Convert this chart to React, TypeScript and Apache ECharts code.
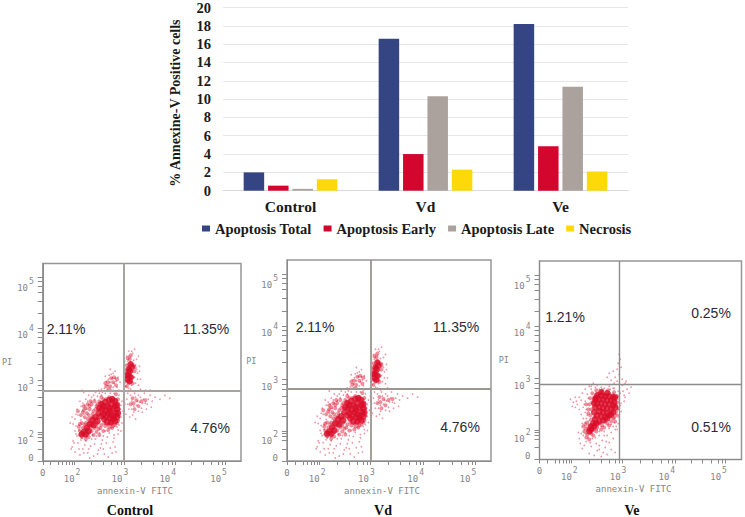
import React, { useEffect, useRef } from "react";
import * as echarts from "echarts";

const categories = ["Control", "Vd", "Ve"];
const apoptosisTotal = [2.0, 16.6, 18.2];
const apoptosisEarly = [0.55, 4.0, 4.85];
const apoptosisLate = [0.2, 10.3, 11.35];
const necrosis = [1.25, 2.3, 2.1];

const ctlSparse = [
  [30,14],[33,9],[36,18],[38,6],[41,12],[44,20],[46,8],[49,15],[52,5],[54,22],[57,11],[60,17],[63,7],[66,24],[69,13],[72,19],[75,9],[77,27],[35,25],[40,23],[48,3],[58,28],[64,30],[70,33],[31,20],[43,16],[51,26],[61,21],[74,14],[67,4],
  [28,38],[30,44],[33,30],[35,52],[37,36],[38,60],[41,58],[44,62],[47,66],[50,64],[54,69],[58,68],[33,42],[36,46],
  [78,36],[80,44],[79,52],[81,60],[78,66],[77,31],[80,30],[76,70],[81,38],
  [63,73],[65,80],[67,76],[68,86],[70,71],[71,83],[73,78],[74,90],[76,74],[77,84],[79,79],[64,85],[66,72],[72,88],[78,71],[69,92],
  [85,75],[86,105],[88,110],[90,72],[92,108],[94,112],[96,102],[97,88],[99,95],[100,82],[84,100],[85,84],[95,78],[98,105],[93,70],[87,68],
  [86,62],[88,52],[90,66],[92,46],[94,68],[96,56],[98,50],[100,64],[102,58],[104,68],[106,52],[108,62],[110,66],[112,60],[115,64],[120,62],[125,66],[130,63],[89,44],[95,42],
  [60,72],[40,71],[42,69],[83,72],[100,72],[105,71],[110,71],
  [34,27],[37,31],[39,41],[42,47],[45,52],[47,57],[50,59],[53,62],[56,65],[60,66],[64,68],[69,68],[73,68],[39,21],[45,25],[50,22],[55,25],[62,25],[68,28],[73,26],[76,34],[78,41],[79,48],[78,58],[80,56],
  [66,76],[69,79],[72,74],[75,80],[70,87],[67,82],[74,83],[87,100],[90,104],[93,101],[95,96],[96,92],[94,84],[97,82],[91,76],[88,73],[93,55],[97,60],[101,53],[103,62],[105,58],[91,60],[95,64],[99,59],[93,49],
  [32,18],[37,12],[42,8],[47,12],[53,17],[56,7],[59,13],[62,12],[65,18],[71,8],[73,23],[29,12],[34,35],[31,37],[34,47],[39,55],[43,56],[46,60],[52,66],[57,71],[61,69],[72,71],[82,50],[83,64],[84,57],[85,47],[87,57],[91,52],[98,66],[102,49],[107,57],[111,54],[88,105],[91,110],[84,93],[99,90],[98,76],[84,78],
];
const ctlMedium = [
  [38,30],[41,27],[44,25],[47,28],[50,30],[37,34],[41,33],[45,32],[49,34],[53,33],[57,32],[40,38],[44,38],[48,40],[52,38],[56,38],[60,36],[64,35],[68,34],[72,35],[76,38],[43,44],[47,46],[51,44],[41,49],[44,53],[48,52],[52,50],[55,55],[50,57],[53,60],[58,60],[76,48],[76,56],[77,62],[72,63],[75,67],[68,64],[62,62],[57,52],[70,37],[74,42],
  [36,50],[39,46],[42,51],[45,48],[48,55],[51,47],[54,52],[46,42],[49,43],[53,41],[56,43],[38,37],[43,36],[47,37],[51,36],[55,35],[59,33],[63,38],[67,37],[71,33],[74,36],[77,40],[78,45],[78,52],[74,60],[70,61],[65,62],[60,58],[56,57],[60,64],[44,22],[40,24],[47,24],[52,26],[58,26],[38,26],[62,30],[67,31],[55,29],[46,57],[49,60],[42,55],
  [65,75],[69,75],[72,79],[70,83],[67,79],[75,76],[64,78],[73,84],[76,82],[68,72],
  [86,80],[88,78],[90,80],[85,90],[88,86],[92,84],[94,90],[86,96],[90,98],[93,96],[89,102],[91,90],[88,93],[94,94],[86,75],[92,78],[90,106],[87,103],
  [90,57],[93,58],[96,61],[94,52],[98,55],[101,60],[92,63],[105,61],
];
const ctlCore = [
  [57,48],[60,45],[63,42],[66,39],[70,39],[74,40],[76,44],[77,48],[76,52],[76,56],[74,60],[71,62],[68,61],[64,59],[60,57],[58,53],[61,52],[64,50],[67,48],[70,46],[73,45],[75,48],[72,52],[69,50],[66,55],[70,57],[62,47],[65,44],[69,43],[72,42],[74,55],[62,55],[68,53],
  [54,44],[51,41],[48,37],[45,33],[42,29],[40,27],[47,30],[52,36],[56,40],[44,27],
  [87,82],[88,86],[89,90],[90,84],[88,92],[91,94],[89,80],[86,86],[90,97],
];

const veSparse = [
  [55,4],[58,9],[60,14],[62,3],[64,7],[66,12],[68,5],[70,17],[72,10],[74,21],[76,7],[63,19],[57,16],[50,6],[52,13],[68,24],[72,27],[76,30],[60,24],[65,28],
  [41,16],[43,11],[40,21],[42,26],[45,14],[47,18],[39,27],
  [31,60],[34,57],[36,62],[38,55],[40,50],[42,45],[44,41],[46,37],[36,52],[33,53],[40,62],[43,66],[46,70],[50,73],[54,76],[58,74],[62,72],[48,65],[52,70],[70,73],[75,71],[79,68],
  [80,60],[81,54],[82,48],[80,42],[79,36],[78,30],[84,68],[86,62],[88,70],[90,66],[92,72],[83,74],[85,58],[87,78],
  [68,82],[70,86],[72,79],[74,88],[76,82],[78,90],[80,85],[82,92],[79,96],[81,100],[80,105],[78,78],[75,76],[83,80],[86,76],
  [43,36],[45,30],[48,44],[44,52],[46,58],[49,61],[50,39],[48,32],[53,29],[58,30],[62,33],[72,35],[75,37],[77,45],[79,50],[78,62],[74,66],[67,68],[60,70],
  [37,58],[42,59],[45,55],[47,50],[46,47],[47,41],[44,24],[46,26],[49,22],[51,17],[53,21],[56,22],[60,28],[65,24],[70,31],[74,33],[77,33],[82,56],[81,66],[85,64],[52,73],[56,72],[65,71],[71,70],[74,71],[60,10],[67,18],
];
const veMedium = [
  [45,28],[48,25],[51,28],[47,22],[50,20],[53,32],[56,36],[50,34],[48,37],[52,40],[55,42],[49,46],[52,50],[50,55],[53,57],[55,62],[58,65],[62,67],[66,65],[70,66],[74,64],[76,60],[77,54],[77,48],[75,42],[72,38],[68,36],[65,32],[62,30],[60,36],[57,28],[54,24],[44,33],[47,31],
  [49,50],[47,55],[51,61],[53,66],[57,69],[63,69],[69,69],[75,67],[78,63],[78,57],[79,51],[78,44],[76,38],[70,34],[66,38],[63,34],[58,32],[55,30],[52,26],[49,30],[46,35],[51,44],[74,41],
];
const veCore = [
  [58,64],[62,64],[66,63],[70,63],[74,62],[56,60],[60,60],[64,60],[68,59],[72,59],[75,57],[58,56],[62,56],[66,55],[70,55],[74,54],[60,52],[64,51],[68,51],[72,50],[60,48],[64,47],[68,46],[58,44],[62,43],[66,42],[56,40],[60,38],[54,36],[52,33],[55,47],[70,44],[52,30],
  [56,52],[55,56],[76,62],[76,52],[74,47],[72,45],[68,41],[64,39],[57,36],[55,33],[50,28],[57,61],[62,67],[68,66],
];

const quadrantV = [83, 83.5, 80];
const quadrantH = [70, 71, 75];
const tickX = [0, 32, 83, 136, 187];
const labelX = [0, 30, 79, 128, 180];
const tickY = [29, 81, 133, 184];
const labelY = [3, 23, 76, 129, 176];
const minorX = [8, 16, 20, 24, 27, 30, 50, 62, 70, 76, 80, 101, 113, 122, 129, 133, 152, 164, 173, 180, 184];
const minorY = [12, 20, 24, 27, 44, 56, 64, 71, 76, 97, 109, 118, 124, 129, 148, 160, 169, 175, 180];
const exponents = ["", "2", "3", "4", "5"];

const panels = [
  { left: 38, top: 263.5, width: 203, height: 197.5, sparse: ctlSparse, medium: ctlMedium, core: ctlCore, lineColor: "#aaa4a0", lineWidth: 2 },
  { left: 287, top: 260, width: 204, height: 201, sparse: ctlSparse, medium: ctlMedium, core: ctlCore, lineColor: "#9c9690", lineWidth: 1.8 },
  { left: 539.5, top: 261, width: 202, height: 198.5, sparse: veSparse, medium: veMedium, core: veCore, lineColor: "#8c8c8c", lineWidth: 1.4 },
];

const percentTexts = [
  ["2.11%", 66, 329], ["11.35%", 206, 329], ["4.76%", 210, 428],
  ["2.11%", 315, 327], ["11.35%", 456, 327], ["4.76%", 460, 427],
  ["1.21%", 565, 317], ["0.25%", 711, 313], ["0.51%", 711, 427],
];
const captions = [["Control", 130, 510], ["Vd", 383, 510], ["Ve", 632, 510]];

const SERIF = "'Liberation Serif', serif";
const MONO = "'DejaVu Sans Mono', monospace";
const GREY = "#858585";

function labelFor(values: number[]) {
  return (v: number) => {
    const i = values.indexOf(v);
    if (i <= 0) return "0";
    return `{b|10}{s|${exponents[i]}}`;
  };
}
const labelRich = {
  b: { fontFamily: MONO, fontSize: 9, color: GREY, lineHeight: 15, verticalAlign: "bottom" as const },
  s: { fontFamily: MONO, fontSize: 8, color: GREY, lineHeight: 15, verticalAlign: "top" as const, padding: [0, 0, 0, 1] },
};

export default function App() {
  const ref = useRef<HTMLDivElement>(null);
  useEffect(() => {
    const chart = echarts.init(ref.current!, undefined, { renderer: "svg" });
    const grid: any[] = [{ left: 223, top: 5.7, width: 405, height: 185 }];
    const xAxis: any[] = [{
      type: "category", data: categories, gridIndex: 0,
      axisTick: { show: false },
      axisLine: { lineStyle: { color: "#d9d9d9" } },
      axisLabel: { fontFamily: SERIF, fontWeight: "bold", fontSize: 15.5, color: "#1a1a1a", margin: 8 },
    }];
    const yAxis: any[] = [{
      type: "value", gridIndex: 0, min: 0, max: 20, interval: 2,
      name: "% Annexine-V Positive cells", nameLocation: "middle", nameGap: 41,
      nameTextStyle: { fontFamily: SERIF, fontWeight: "bold", fontSize: 14, color: "#1a1a1a", padding: [0, 8, 0, 0] },
      axisLine: { show: false }, axisTick: { show: false },
      splitLine: { lineStyle: { color: "#e6e6e6" } },
      axisLabel: { fontFamily: SERIF, fontWeight: "bold", fontSize: 14.5, color: "#1a1a1a", margin: 12 },
    }];
    const bars = [
      ["Apoptosis Total", apoptosisTotal, "#354584"],
      ["Apoptosis Early", apoptosisEarly, "#d3062d"],
      ["Apoptosis Late", apoptosisLate, "#aca29d"],
      ["Necrosis", necrosis, "#fdd90a"],
    ] as const;
    const series: any[] = bars.map(([name, data, color]) => ({
      type: "bar", name, data: [...data], xAxisIndex: 0, yAxisIndex: 0,
      barWidth: 20.5, barGap: "19%", itemStyle: { color },
    }));

    panels.forEach((p, i) => {
      const g = i + 1;
      grid.push({ left: p.left, top: p.top, width: p.width, height: p.height, show: true, borderColor: "#969696", borderWidth: 1.5, backgroundColor: "#fff" });
      xAxis.push({
        type: "value", gridIndex: g, min: 0, max: 203,
        name: "annexin-V FITC", nameLocation: "middle", nameGap: 25,
        nameTextStyle: { fontFamily: MONO, fontSize: 9, color: GREY, padding: [0, 14, 0, 0] },
        splitLine: { show: false },
        axisLine: { lineStyle: { color: "#8a8a8a" } },
        axisTick: { length: 4, lineStyle: { color: "#8a8a8a" }, customValues: [...tickX, ...minorX] },
        axisLabel: { margin: 7, customValues: labelX, formatter: labelFor(labelX), rich: labelRich, fontFamily: MONO, fontSize: 9, color: GREY, hideOverlap: false, showMinLabel: true, showMaxLabel: true },
      });
      yAxis.push({
        type: "value", gridIndex: g, min: 0, max: 198,
        name: "PI", nameLocation: "middle", nameGap: 26, nameRotate: 0,
        nameTextStyle: { fontFamily: MONO, fontSize: 8.5, color: GREY },
        splitLine: { show: false },
        axisLine: { show: true, lineStyle: { color: "#8a8a8a" } },
        axisTick: { show: true, length: 5, lineStyle: { color: "#8a8a8a" }, customValues: [0, ...tickY, ...minorY] },
        axisLabel: { margin: 9, customValues: labelY, formatter: labelFor(labelY), rich: labelRich, fontFamily: MONO, fontSize: 9, color: GREY, hideOverlap: false, showMinLabel: true, showMaxLabel: true },
      });
      const layer = (data: number[][], size: number, opacity: number, color: string) => ({
        type: "scatter", data, xAxisIndex: g, yAxisIndex: g, symbolSize: size, silent: true,
        itemStyle: { color, opacity }, legendHoverLink: false,
      });
      series.push(layer(p.sparse, 1.7, 0.5, "#e0304a"));
      series.push(layer(p.medium, 4, 0.48, "#dc1230"));
      series.push({
        ...layer(p.core, 6.5, 0.8, "#d90c28"),
        markLine: {
          silent: true, symbol: "none", label: { show: false },
          lineStyle: { color: p.lineColor, width: p.lineWidth, type: "solid" },
          data: [{ xAxis: quadrantV[i] }, { yAxis: quadrantH[i] }],
        },
      });
    });

    const graphic: any[] = [
      ...percentTexts.map(([text, x, y]) => ({
        type: "text", x, y, style: { text, fontFamily: "'Liberation Sans', sans-serif", fontSize: 14, fill: "#2b2b38", textAlign: "center", textVerticalAlign: "middle" },
      })),
      ...captions.map(([text, x, y]) => ({
        type: "text", x, y, style: { text, fontFamily: SERIF, fontWeight: "bold", fontSize: 14, fill: "#111", textAlign: "center", textVerticalAlign: "middle" },
      })),
    ];

    chart.setOption({
      animation: false,
      backgroundColor: "#fff",
      legend: {
        data: bars.map((b) => b[0]), left: 197, top: 216, itemWidth: 8, itemHeight: 6, itemGap: 12,
        icon: "rect",
        textStyle: { fontFamily: SERIF, fontWeight: "bold", fontSize: 14.5, color: "#1a1a1a" },
      },
      grid, xAxis, yAxis, series, graphic,
    });
    return () => chart.dispose();
  }, []);
  return <div ref={ref} style={{ position: "absolute", left: 0, top: 0, width: 745, height: 517 }} />;
}
